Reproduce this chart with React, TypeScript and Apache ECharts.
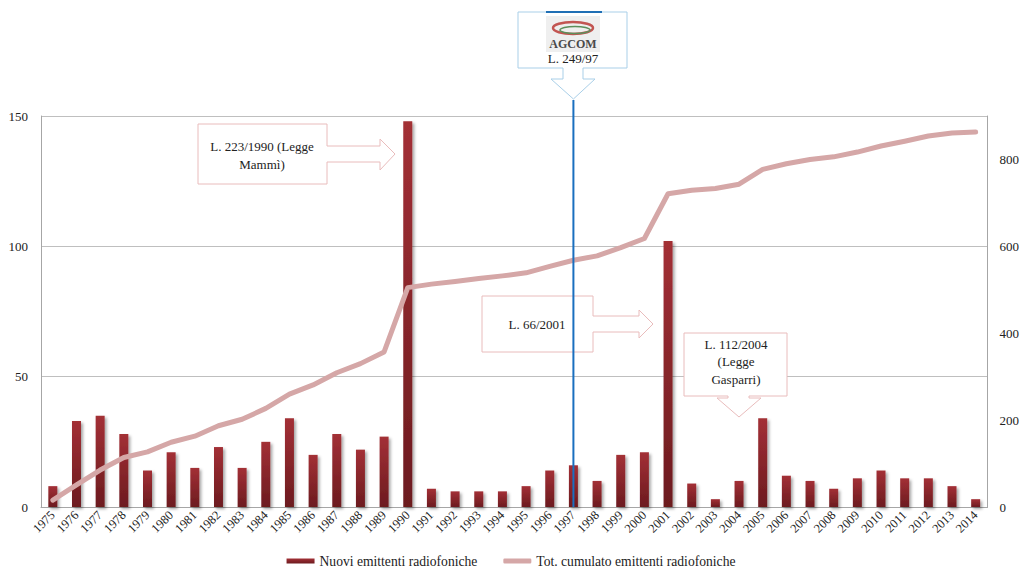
import React, { useEffect, useRef } from "react";
import * as echarts from "echarts";

const years = [
  "1975", "1976", "1977", "1978", "1979", "1980", "1981", "1982", "1983", "1984",
  "1985", "1986", "1987", "1988", "1989", "1990", "1991", "1992", "1993", "1994",
  "1995", "1996", "1997", "1998", "1999", "2000", "2001", "2002", "2003", "2004",
  "2005", "2006", "2007", "2008", "2009", "2010", "2011", "2012", "2013", "2014",
];

const newStations = [
  8, 33, 35, 28, 14, 21, 15, 23, 15, 25,
  34, 20, 28, 22, 27, 148, 7, 6, 6, 6,
  8, 14, 16, 10, 20, 21, 102, 9, 3, 10,
  34, 12, 10, 7, 11, 14, 11, 11, 8, 3,
];

const cumulative = [
  16, 51, 85, 114, 127, 149, 163, 187, 202, 227,
  260, 281, 309, 330, 357, 505, 513, 519, 526, 532,
  539, 554, 568, 578, 597, 618, 721, 729, 733, 743,
  777, 790, 800, 806, 817, 831, 842, 854, 861, 863,
];

const seriesNames = ["Nuovi emittenti radiofoniche", "Tot. cumulato emittenti radiofoniche"];
const lawYear = "1997";

const FONT = "Liberation Serif";

export default function App() {
  const ref = useRef<HTMLDivElement>(null);

  useEffect(() => {
    if (!ref.current) return;
    const chart = echarts.init(ref.current, null, { renderer: "svg" });

    const calloutStroke = "#e9bcbc";
    const txt = (x: number, y: number, text: string) => ({
      type: "text",
      x,
      y,
      z: 20,
      style: {
        text,
        fill: "#222",
        fontFamily: FONT,
        fontSize: 13,
        align: "center",
        verticalAlign: "middle",
      },
    });

    chart.setOption({
      animation: false,
      backgroundColor: "#fff",
      textStyle: { fontFamily: FONT },
      grid: { left: 41, right: 34, top: 116, bottom: 67, containLabel: false },
      legend: {
        bottom: 1,
        left: "center",
        itemGap: 26,
        itemWidth: 28,
        itemHeight: 5,
        textStyle: { fontFamily: FONT, fontSize: 13.6, color: "#222" },
        data: [
          { name: seriesNames[0], icon: "rect" },
          { name: seriesNames[1], icon: "roundRect" },
        ],
      },
      xAxis: {
        type: "category",
        data: years,
        boundaryGap: true,
        axisLine: { show: true, lineStyle: { color: "#a6a6a6", width: 1 } },
        axisTick: { show: false },
        axisLabel: {
          rotate: 45,
          interval: 0,
          margin: 6,
          fontFamily: FONT,
          fontSize: 12.5,
          color: "#222",
        },
      },
      yAxis: [
        {
          type: "value",
          min: 0,
          max: 150,
          interval: 50,
          axisLine: { show: true, lineStyle: { color: "#a6a6a6" } },
          axisTick: { show: false },
          splitLine: { show: true, lineStyle: { color: "#bfbfbf", width: 1 } },
          axisLabel: { margin: 13, fontFamily: FONT, fontSize: 13, color: "#222" },
        },
        {
          type: "value",
          min: 0,
          max: 900,
          interval: 200,
          axisLine: { show: true, lineStyle: { color: "#a6a6a6" } },
          axisTick: { show: false },
          splitLine: { show: false },
          axisLabel: {
            margin: 12,
            showMaxLabel: false,
            fontFamily: FONT,
            fontSize: 13,
            color: "#222",
          },
        },
      ],
      series: [
        {
          name: seriesNames[0],
          type: "bar",
          data: newStations,
          barWidth: 9,
          itemStyle: {
            color: new echarts.graphic.LinearGradient(0, 0, 0, 1, [
              { offset: 0, color: "#a33036" },
              { offset: 1, color: "#6c1b1f" },
            ]),
            shadowColor: "rgba(0,0,0,0.35)",
            shadowBlur: 3,
            shadowOffsetX: 2,
            shadowOffsetY: 2,
          },
          z: 2,
        },
        {
          name: seriesNames[1],
          type: "line",
          yAxisIndex: 1,
          data: cumulative,
          symbol: "none",
          lineStyle: { color: "#d5a7a7", width: 5, cap: "round", join: "round" },
          itemStyle: { color: "#d5a7a7" },
          z: 3,
        },
      ],
    });

    const lx = chart.convertToPixel({ xAxisIndex: 0 }, lawYear) as number;
    const ly0 = chart.convertToPixel({ yAxisIndex: 0 }, 0) as number;

    chart.setOption({
      graphic: [
        // Callout L. 223/1990
        {
          type: "polygon",
          z: 10,
          shape: {
            points: [
              [198, 124], [327, 124], [327, 146], [380, 146], [380, 139], [395, 154],
              [380, 170], [380, 162], [327, 162], [327, 184], [198, 184],
            ],
          },
          style: { fill: "#fff", stroke: calloutStroke, lineWidth: 1 },
        },
        txt(262, 146, "L. 223/1990 (Legge"),
        txt(262, 164, "Mammì)"),
        // Callout L. 66/2001
        {
          type: "polygon",
          z: 10,
          shape: {
            points: [
              [482, 296], [593, 296], [593, 316], [639, 316], [639, 310], [653, 324],
              [639, 338], [639, 332], [593, 332], [593, 352], [482, 352],
            ],
          },
          style: { fill: "#fff", stroke: calloutStroke, lineWidth: 1 },
        },
        txt(537, 324, "L. 66/2001"),
        // Callout L. 112/2004
        {
          type: "polygon",
          z: 10,
          shape: {
            points: [
              [684, 333], [787, 333], [787, 396], [749, 396], [749, 398], [761, 398],
              [739, 417], [717, 398], [728, 398], [728, 396], [684, 396],
            ],
          },
          style: { fill: "#fff", stroke: calloutStroke, lineWidth: 1 },
        },
        txt(736, 344, "L. 112/2004"),
        txt(736, 361, "(Legge"),
        txt(736, 379, "Gasparri)"),
        // AGCOM callout
        {
          type: "polygon",
          z: 10,
          shape: {
            points: [
              [518, 12], [627, 12], [627, 68], [583, 68], [583, 79], [595, 79],
              [lx, 99], [551, 79], [563, 79], [563, 68], [518, 68],
            ],
          },
          style: { fill: "#fff", stroke: "#a9cfe8", lineWidth: 1 },
        },
        {
          type: "rect",
          z: 12,
          shape: { x: 546, y: 11, width: 56, height: 2 },
          style: { fill: "#1f6fb5" },
        },
        // logo approximation
        {
          type: "rect",
          z: 11,
          shape: { x: 546, y: 16, width: 54, height: 36 },
          style: { fill: "#efefef" },
        },
        {
          type: "ellipse",
          z: 12,
          shape: { cx: 573, cy: 28, rx: 20, ry: 6 },
          style: { fill: "none", stroke: "#c25552", lineWidth: 2.5 },
        },
        {
          type: "ellipse",
          z: 13,
          shape: { cx: 575, cy: 30, rx: 15, ry: 3.5 },
          style: { fill: "none", stroke: "#5b8f5b", lineWidth: 1.5 },
        },
        {
          type: "text",
          z: 13,
          x: 573,
          y: 44,
          style: {
            text: "AGCOM",
            fill: "#4a4a4a",
            fontFamily: FONT,
            fontWeight: "bold",
            fontSize: 12,
            align: "center",
            verticalAlign: "middle",
          },
        },
        txt(573, 58, "L. 249/97"),
        // vertical law line
        {
          type: "line",
          z: 30,
          shape: { x1: lx, y1: 100, x2: lx, y2: ly0 },
          style: { stroke: "#1a6fbf", lineWidth: 2 },
        },
      ],
    });

    return () => chart.dispose();
  }, []);

  return (
    <div
      ref={ref}
      style={{ position: "fixed", left: 0, top: 0, width: 1022, height: 574 }}
    />
  );
}
